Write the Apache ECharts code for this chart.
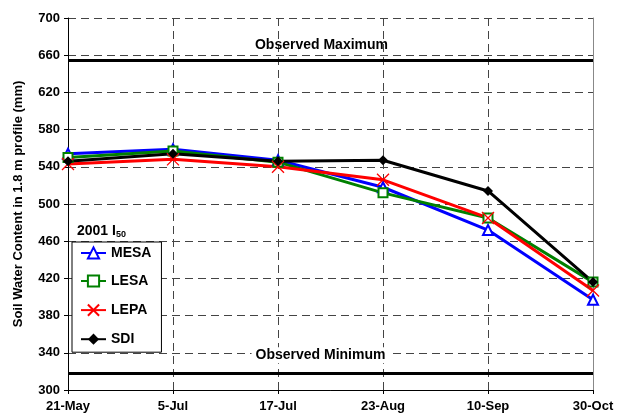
<!DOCTYPE html>
<html>
<head>
<meta charset="utf-8">
<script src="https://cdn.jsdelivr.net/npm/echarts@6/dist/echarts.min.js"></script>
<style>
html,body{margin:0;padding:0;background:#fff;}
#chart{width:618px;height:419px;}
</style>
</head>
<body>
<div id="chart"></div>
<script>
const categories = ['21-May', '5-Jul', '17-Jul', '23-Aug', '10-Sep', '30-Oct'];
const mesa = [554, 559, 547, 518, 472, 397];
const lesa = [550, 557, 545, 512, 485, 416];
const lepa = [543, 548, 540, 526, 485, 407];
const sdi  = [546, 554, 546, 547, 514, 416];
const observedMax = 655;
const observedMin = 318;
const yTicks = { min: 300, max: 700, interval: 40 };

const FONT = '"Liberation Sans", Arial, sans-serif';
const chart = echarts.init(document.getElementById('chart'), null, { renderer: 'canvas' });

function lineSeries(name, data, color, symbol, symbolSize, itemStyle) {
  return {
    name, type: 'line', data, symbol, symbolSize,
    lineStyle: { color, width: 3 },
    itemStyle: Object.assign({ color, borderWidth: 1.2 }, itemStyle || {}),
    emphasis: { disabled: true },
    z: 3
  };
}

const option = {
  animation: false,
  backgroundColor: '#fff',
  textStyle: { fontFamily: FONT },
  grid: { left: 68, right: 25, top: 18, bottom: 29, containLabel: false },
  title: {
    text: '{a|2001 I}{s|50}',
    left: 72, top: 217,
    textStyle: {
      rich: {
        a: { fontFamily: FONT, fontWeight: 'bold', fontSize: 14, color: '#000', lineHeight: 18 },
        s: { fontFamily: FONT, fontWeight: 'bold', fontSize: 9, color: '#000', lineHeight: 18, padding: [7, 0, 0, 0] }
      }
    }
  },
  legend: {
    orient: 'vertical',
    left: 72, top: 242,
    padding: [4, 10, 6, 8],
    itemWidth: 25, itemHeight: 14, itemGap: 14,
    itemTextGap: 3,
    backgroundColor: '#fff',
    borderColor: '#000', borderWidth: 1,
    textStyle: { fontFamily: FONT, fontWeight: 'bold', fontSize: 14, color: '#000' },
    data: ['MESA', 'LESA', 'LEPA', 'SDI']
  },
  xAxis: {
    type: 'category', data: categories, boundaryGap: false,
    axisLine: { lineStyle: { color: '#000', width: 1 } },
    axisTick: { show: true, length: 4, lineStyle: { color: '#000' } },
    axisLabel: { color: '#000', fontFamily: FONT, fontWeight: 'bold', fontSize: 13, margin: 10 },
    splitLine: { show: true, lineStyle: { color: '#444', type: [8, 5], width: 1 } }
  },
  yAxis: [{
    type: 'value', min: yTicks.min, max: yTicks.max, interval: yTicks.interval,
    name: 'Soil Water Content in 1.8 m profile (mm)',
    nameLocation: 'middle', nameGap: 43,
    nameTextStyle: { color: '#000', fontFamily: FONT, fontWeight: 'bold', fontSize: 13 },
    axisLine: { show: true, lineStyle: { color: '#000', width: 1 } },
    axisTick: { show: true, length: 4, lineStyle: { color: '#000' } },
    axisLabel: { color: '#000', fontFamily: FONT, fontWeight: 'bold', fontSize: 13, margin: 8 },
    splitLine: { show: true, lineStyle: { color: '#444', type: [8, 5], width: 1 } }
  }, {
    type: 'value', min: yTicks.min, max: yTicks.max, interval: yTicks.interval,
    position: 'right',
    axisLine: { show: true, lineStyle: { color: '#888', width: 1 } },
    axisTick: { show: false }, axisLabel: { show: false }, splitLine: { show: false }
  }],
  series: [
    Object.assign(lineSeries('MESA', mesa, '#0000FF', 'emptyTriangle', 10), {
      markLine: {
        silent: true, symbol: 'none', animation: false,
        lineStyle: { color: '#000', width: 3, type: 'solid' },
        data: [
          { yAxis: observedMax, label: { formatter: 'Observed Maximum', position: 'middle', distance: 8, offset: [-9, 0] } },
          { yAxis: observedMin, label: { formatter: 'Observed Minimum', position: 'middle', distance: 10, offset: [-10, 0], backgroundColor: '#fff', padding: [1, 4] } }
        ],
        label: { color: '#000', fontFamily: FONT, fontWeight: 'bold', fontSize: 14 }
      }
    }),
    lineSeries('LESA', lesa, '#008000', 'emptyRect', 9),
    lineSeries('LEPA', lepa, '#FF0000', 'path://M0,0L10,10M10,0L0,10', 12,
      { color: 'none', borderColor: '#FF0000', borderWidth: 1.3 }),
    lineSeries('SDI', sdi, '#000000', 'diamond', 10)
  ]
};
chart.setOption(option);
</script>
</body>
</html>
